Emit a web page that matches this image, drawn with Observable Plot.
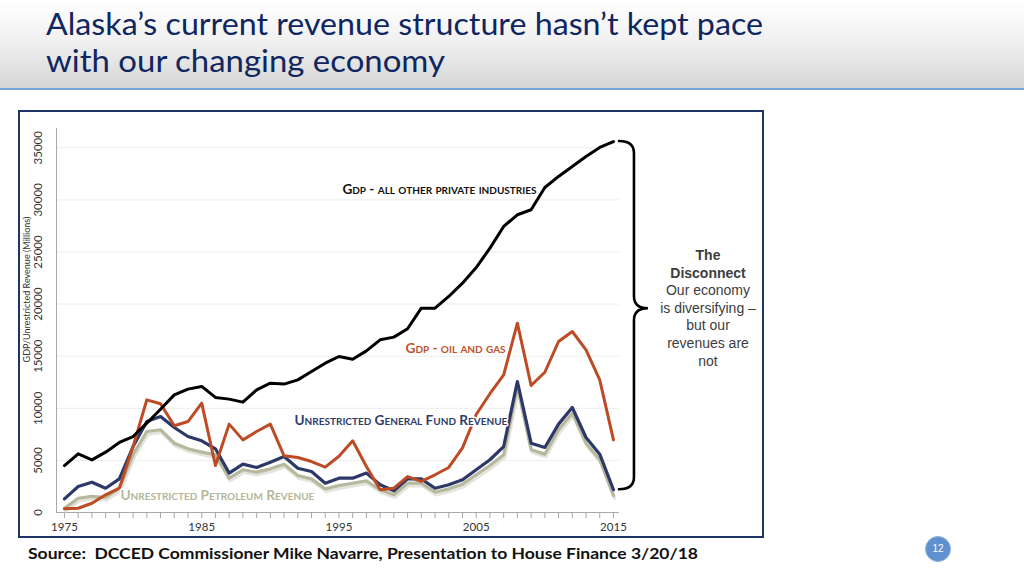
<!DOCTYPE html>
<html>
<head>
<meta charset="utf-8">
<script src="https://cdn.jsdelivr.net/npm/d3@7"></script>
<script src="https://cdn.jsdelivr.net/npm/@observablehq/plot@0.6"></script>
<style>
  html, body { margin: 0; padding: 0; background: #fff; }
  body { width: 1024px; height: 576px; position: relative; overflow: hidden; font-family: Lato, "Open Sans", sans-serif; }
  #header { position: absolute; left: 0; top: 0; width: 1024px; height: 88px;
    background: linear-gradient(to bottom, #ffffff 0%, #f1f1f1 45%, #d6d6d6 100%); }
  #rule { position: absolute; left: 0; top: 88px; width: 1024px; height: 2px; background: #79a6d6; }
  .title { position: absolute; left: 46px; font-family: Lato, sans-serif; font-weight: 400; font-size: 31px;
    color: #0f2660; white-space: nowrap; transform-origin: 0 0; line-height: 1; }
  #frame { position: absolute; left: 18px; top: 110px; width: 742px; height: 424px; border: 2.5px solid #1d3466; background: #fff; }
  #chart { position: absolute; left: 0; top: 0; }
  #disconnect { position: absolute; left: 648px; top: 247px; width: 120px; text-align: center;
    font-family: "Liberation Sans", Arial, sans-serif; font-size: 14px; line-height: 17.6px; color: #3d3d3d; }
  #disconnect b { font-weight: 700; }
  #source { position: absolute; left: 28px; top: 546px; font-family: Lato, sans-serif; font-weight: 700;
    font-size: 15.5px; color: #111; white-space: pre; transform-origin: 0 0; line-height: 1; }
  #page { position: absolute; left: 925px; top: 536px; width: 26px; height: 26px; border-radius: 50%;
    background: #5f90cf; border: 1px solid #8cb0de; box-sizing: border-box; color: #fff;
    font-family: "Liberation Sans", sans-serif; font-size: 10px; line-height: 24px; text-align: center; }
</style>
</head>
<body>
<div id="header"></div>
<div id="rule"></div>
<div class="title" id="t1" style="top:8px">Alaska’s current revenue structure hasn’t kept pace</div>
<div class="title" id="t2" style="top:45px">with our changing economy</div>
<div id="frame"><div id="chart"></div></div>
<div id="disconnect"><b>The<br>Disconnect</b><br>Our economy<br>is diversifying –<br>but our<br>revenues are<br>not</div>
<div id="source">Source:  DCCED Commissioner Mike Navarre, Presentation to House Finance 3/20/18</div>
<div id="page">12</div>
<script>
// ---- data ----
const years = d3.range(1975, 2016);
const gdpOtherPrivate = [4500, 5630, 5050, 5790, 6720, 7290, 8570, 9910, 11290, 11840, 12100, 11040, 10880, 10590, 11770, 12410, 12320, 12730, 13530, 14330, 14970, 14710, 15510, 16570, 16830, 17630, 19610, 19610, 20730, 22010, 23510, 25370, 27450, 28570, 29050, 31190, 32250, 33200, 34170, 35030, 35600];
const gdpOilGas = [350, 410, 890, 1700, 2330, 6330, 10810, 10430, 8320, 8730, 10490, 4510, 8480, 6970, 7770, 8480, 5440, 5280, 4890, 4350, 5400, 6880, 4410, 2180, 2330, 3450, 2980, 3620, 4320, 6200, 9400, 11400, 13210, 18170, 12190, 13460, 16410, 17370, 15610, 12730, 6970];
const unrestrictedGF = [1310, 2500, 2910, 2330, 3230, 6330, 8730, 9210, 8160, 7290, 6880, 6110, 3780, 4640, 4320, 4830, 5370, 4250, 3930, 2810, 3290, 3290, 3780, 2660, 2080, 3230, 3230, 2330, 2660, 3140, 4100, 5060, 6330, 12570, 6650, 6240, 8480, 10080, 7200, 5600, 2180];
const unrestrictedPetroleum = [410, 1370, 1540, 1440, 2330, 5540, 7770, 7940, 6650, 6110, 5790, 5540, 3290, 4100, 3870, 4190, 4640, 3550, 3230, 2270, 2590, 2810, 3040, 2180, 1700, 2810, 2810, 1950, 2270, 2720, 3620, 4510, 5540, 12090, 6020, 5600, 7940, 9530, 6650, 5060, 1630];
const yTicks = [0, 5000, 10000, 15000, 20000, 25000, 30000, 35000];
const xLabelYears = [1975, 1985, 1995, 2005, 2015];
const seriesLabels = [
  {text: "Gdp - all other private industries", year: 1995.25, value: 31000, key: "other"},
  {text: "Gdp - oil and gas", year: 1999.85, value: 15740, key: "oil"},
  {text: "Unrestricted General Fund Revenue", year: 1991.76, value: 8830, key: "gf"},
  {text: "Unrestricted Petroleum Revenue", year: 1979.08, value: 1630, key: "pet"}
];

const colors = {other: "#000000", oil: "#bd4b25", gf: "#2c3968", pet: "#b6b99d"};
const labelColors = {other: "#111111", oil: "#c0522a", gf: "#2f3b6b", pet: "#b3b698"};

const rows = arr => years.map((y, i) => ({year: y, value: arr[i]}));
const xDomain = [1974.42, 2015.44];

const brace = (index, scales) => {
  const x = scales.x, y = scales.y;
  const xe = x(years[years.length - 1]) + 6;
  const yt = y(gdpOtherPrivate[gdpOtherPrivate.length - 1]);
  const yb = y(unrestrictedGF[unrestrictedGF.length - 1]);
  const xs = xe + 15, xt = xs + 14, r = 12;
  const ym = yt + (yb - yt) * 0.48;
  const p = d3.path();
  p.moveTo(xe, yt);
  p.quadraticCurveTo(xs, yt, xs, yt + r);
  p.lineTo(xs, ym - r);
  p.quadraticCurveTo(xs, ym, xt, ym);
  p.quadraticCurveTo(xs, ym, xs, ym + r);
  p.lineTo(xs, yb - r);
  p.quadraticCurveTo(xs, yb, xe, yb);
  const g = document.createElementNS("http://www.w3.org/2000/svg", "path");
  g.setAttribute("d", p.toString());
  g.setAttribute("fill", "none");
  g.setAttribute("stroke", "#000");
  g.setAttribute("stroke-width", "2.6");
  g.setAttribute("stroke-linecap", "round");
  return g;
};

const chart = Plot.plot({
  width: 742, height: 424,
  marginLeft: 36, marginRight: 143, marginTop: 16, marginBottom: 24,
  x: {domain: xDomain, axis: null},
  y: {domain: [0, 36850], axis: null},
  style: {background: "transparent", overflow: "visible", fontFamily: "Lato, 'Open Sans', sans-serif"},
  marks: [
    Plot.ruleY(yTicks.slice(1), {stroke: "#ececec", strokeWidth: 1}),
    Plot.ruleX([xDomain[0]], {stroke: "#a8a8a8", strokeWidth: 1}),
    Plot.ruleY([0], {stroke: "#a8a8a8", strokeWidth: 1}),
    Plot.axisX({ticks: years, tickSize: 6, tickPadding: 4, tickFormat: d => xLabelYears.includes(d) ? String(d) : "",
      stroke: "#a8a8a8", fill: "#333", fontSize: 11.5, label: null}),
    Plot.text(yTicks, {y: d => d, text: d => String(d), frameAnchor: "left", textAnchor: "middle", dx: -18, rotate: -90, fontSize: 11.5, fill: "#333"}),
    Plot.text(["GDP/Unrestricted Revenue (Millions)"], {frameAnchor: "left", textAnchor: "middle", dx: -29, dy: -31, rotate: -90, fontSize: 9, fill: "#333"}),
    // petroleum shadow + line
    Plot.line(rows(unrestrictedPetroleum), {x: "year", y: "value", stroke: "#e4e4dd", strokeWidth: 3.5, dx: 1, dy: 2.5, strokeLinejoin: "round"}),
    Plot.line(rows(unrestrictedPetroleum), {x: "year", y: "value", stroke: colors.pet, strokeWidth: 3.2, strokeLinejoin: "round"}),
    Plot.line(rows(unrestrictedGF), {x: "year", y: "value", stroke: colors.gf, strokeWidth: 3.2, strokeLinejoin: "round"}),
    Plot.line(rows(gdpOilGas), {x: "year", y: "value", stroke: colors.oil, strokeWidth: 3, strokeLinejoin: "round"}),
    Plot.line(rows(gdpOtherPrivate), {x: "year", y: "value", stroke: colors.other, strokeWidth: 3, strokeLinejoin: "round"}),
    Plot.text(seriesLabels, {x: "year", y: "value", text: "text", textAnchor: "start", fontVariant: "small-caps",
      fontWeight: 700, fontSize: 13.6, fill: d => labelColors[d.key], stroke: "#fff", strokeWidth: 3}),
    brace
  ]
});
document.getElementById("chart").appendChild(chart);

// fit text widths to the reference layout
function fit(id, w) {
  const el = document.getElementById(id);
  const nat = el.getBoundingClientRect().width;
  el.style.transform = `scaleX(${w / nat})`;
}
fit("t1", 717);
fit("t2", 399);
fit("source", 670);
</script>
</body>
</html>
